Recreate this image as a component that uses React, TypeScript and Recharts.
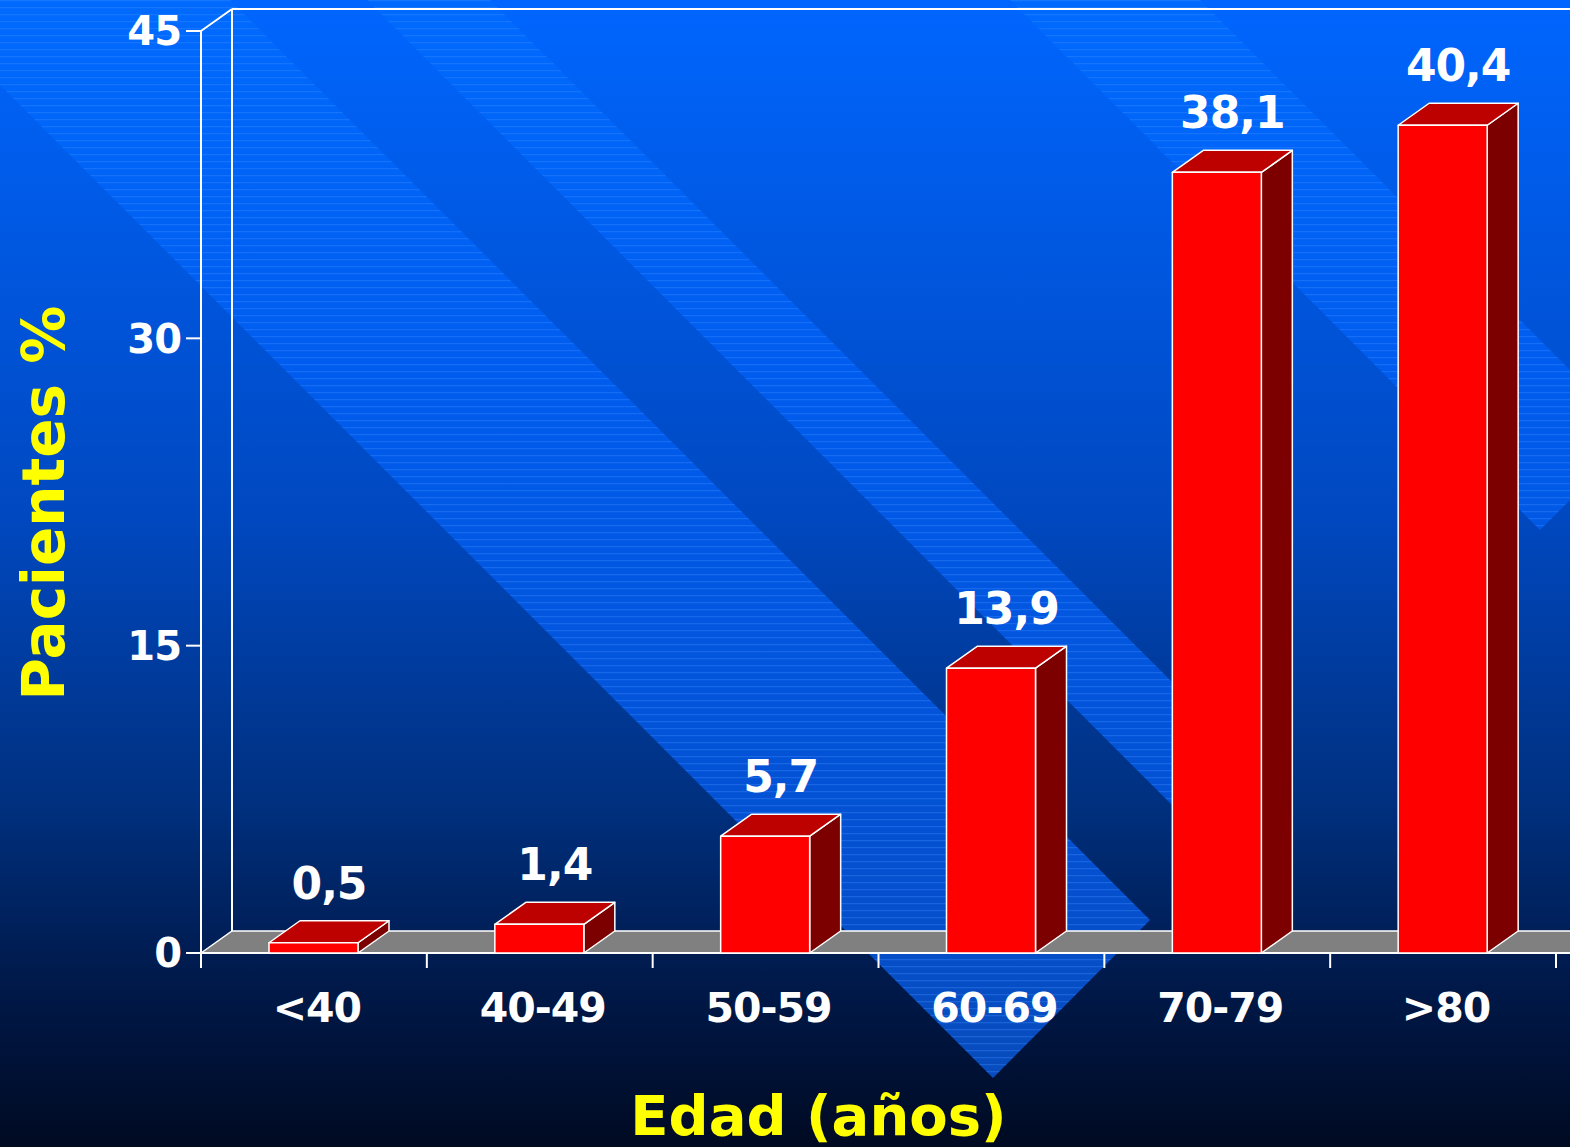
import { BarChart, Bar, XAxis, YAxis, ReferenceArea, LabelList, Label } from 'recharts';

const categories = ['<40', '40-49', '50-59', '60-69', '70-79', '>80'];
const pacientes = [0.5, 1.4, 5.7, 13.9, 38.1, 40.4];
const yTicks = [0, 15, 30, 45];

const data = categories.map((edad, i) => ({ edad, pct: pacientes[i] }));

const W = 1570;
const H = 1147;
const DX = 31;
const DY = 22;
const FONT = '"DejaVu Sans", Verdana, sans-serif';

function Bar3D(props: any) {
  const { x, y, width, height } = props;
  if (height == null || width == null) return null;
  const r = x + width;
  const b = y + height;
  return (
    <g stroke="#fff" strokeWidth={1.5} strokeLinejoin="round">
      <polygon points={`${r},${y} ${r + DX},${y - DY} ${r + DX},${b - DY} ${r},${b}`} fill="#7d0000" />
      <polygon points={`${x},${y} ${x + DX},${y - DY} ${r + DX},${y - DY} ${r},${y}`} fill="#bd0000" />
      <rect x={x} y={y} width={width} height={height} fill="#ff0000" />
    </g>
  );
}

// floor, back wall and boundary ticks
function Frame(props: any) {
  const { x, y, width, height } = props;
  const b = y + height;
  const n = categories.length;
  const ticks = [];
  for (let i = 0; i <= n; i++) {
    const tx = x + (width * i) / n;
    ticks.push(<line key={i} x1={tx} y1={b} x2={tx} y2={b + 15} stroke="#fff" strokeWidth={2} />);
  }
  return (
    <g>
      <polygon
        points={`${x},${b} ${x + DX},${b - DY} ${x + width + DX + 60},${b - DY} ${x + width + 60},${b}`}
        fill="#808080"
        stroke="#fff"
        strokeWidth={1.5}
      />
      <line x1={x + DX} y1={b - DY} x2={x + DX} y2={y - DY} stroke="#fff" strokeWidth={2} />
      <line x1={x + DX} y1={y - DY} x2={x + width + 60} y2={y - DY} stroke="#fff" strokeWidth={2} />
      <line x1={x} y1={y} x2={x + DX} y2={y - DY} stroke="#fff" strokeWidth={2} />
      <line x1={x} y1={b} x2={x + width + 60} y2={b} stroke="#fff" strokeWidth={2} />
      {ticks}
    </g>
  );
}

function ValueLabel(props: any) {
  const { x, y, width, value } = props;
  return (
    <text
      x={x + width / 2 + DX / 2}
      y={y - DY - 22}
      textAnchor="middle"
      fill="#fff"
      fontSize={44}
      fontWeight={700}
      fontFamily={FONT}
      letterSpacing={-1}
    >
      {String(value).replace('.', ',')}
    </text>
  );
}

function XTick(props: any) {
  const { x, y, payload } = props;
  return (
    <text x={x + 3} y={y + 69} textAnchor="middle" fill="#fff" fontSize={41} fontWeight={700} fontFamily={FONT} letterSpacing={-1}>
      {payload.value}
    </text>
  );
}

function XTitle(props: any) {
  const vb = props.viewBox;
  return (
    <text x={vb.x + vb.width / 2 - 60} y={vb.y + vb.height - 12} textAnchor="middle" fill="#ffff00" fontSize={56} fontWeight={700} fontFamily={FONT}>
      Edad (años)
    </text>
  );
}

function YTitle(props: any) {
  const vb = props.viewBox;
  const cx = vb.x - 57;
  const cy = vb.y + vb.height / 2 + 11;
  return (
    <text
      x={cx}
      y={cy}
      transform={`rotate(-90, ${cx}, ${cy})`}
      textAnchor="middle"
      fill="#ffff00"
      fontSize={58}
      fontWeight={700}
      fontFamily={FONT}
    >
      Pacientes %
    </text>
  );
}

function Backdrop() {
  return (
    <svg width={W} height={H} style={{ position: 'absolute', left: 0, top: 0 }}>
      <defs>
        <linearGradient id="bg" x1="0" y1="0" x2="0" y2={H} gradientUnits="userSpaceOnUse">
          <stop offset="0" stopColor="#0066ff" />
          <stop offset="0.45" stopColor="#0048c0" />
          <stop offset="0.7" stopColor="#00307f" />
          <stop offset="0.85" stopColor="#001a4c" />
          <stop offset="1" stopColor="#000a22" />
        </linearGradient>
        <linearGradient id="band" x1="0" y1="0" x2="0" y2={1080} gradientUnits="userSpaceOnUse">
          <stop offset="0" stopColor="#006aff" />
          <stop offset="0.35" stopColor="#005cee" />
          <stop offset="0.8" stopColor="#0450d0" />
          <stop offset="1" stopColor="#084cbc" />
        </linearGradient>
        <pattern id="lines" width={8} height={7} patternUnits="userSpaceOnUse">
          <rect x={0} y={0} width={8} height={1.2} fill="#3d8bff" opacity={0.35} />
        </pattern>
      </defs>
      <rect x={0} y={0} width={W} height={H} fill="url(#bg)" />
      <g>
        <polygon points="0,85 993,1078 1150,920 230,0 0,0" fill="url(#band)" />
        <polygon points="367,0 1218,851 1280,790 490,0" fill="url(#band)" />
        <polygon points="1010,0 1540,530 1635,435 1200,0" fill="url(#band)" />
        <polygon points="0,85 993,1078 1150,920 230,0 0,0" fill="url(#lines)" />
        <polygon points="367,0 1218,851 1280,790 490,0" fill="url(#lines)" />
        <polygon points="1010,0 1540,530 1635,435 1200,0" fill="url(#lines)" />
      </g>
    </svg>
  );
}

export default function App() {
  return (
    <div style={{ position: 'absolute', left: 0, top: 0, width: W, height: H, overflow: 'hidden' }}>
      <Backdrop />
      <div style={{ position: 'absolute', left: 0, top: 0 }}>
        <BarChart width={W} height={H} data={data} margin={{ top: 31, right: 14, bottom: 0, left: 121 }}>
          <ReferenceArea y1={0} y2={45} shape={<Frame />} />
          <XAxis
            dataKey="edad"
            height={194}
            axisLine={false}
            tickLine={false}
            tickSize={0}
            tickMargin={0}
            tick={<XTick />}
            interval={0}
          >
            <Label content={<XTitle />} />
          </XAxis>
          <YAxis
            domain={[0, 45]}
            ticks={yTicks}
            width={80}
            axisLine={{ stroke: '#fff', strokeWidth: 2 }}
            tickLine={{ stroke: '#fff', strokeWidth: 2 }}
            tickSize={15}
            tickMargin={5}
            tick={{ fill: '#fff', fontSize: 40, fontWeight: 700, fontFamily: FONT, letterSpacing: -1 }}
          >
            <Label content={<YTitle />} />
          </YAxis>
          <Bar dataKey="pct" barSize={89} shape={<Bar3D />} isAnimationActive={false}>
            <LabelList dataKey="pct" content={<ValueLabel />} />
          </Bar>
        </BarChart>
      </div>
    </div>
  );
}
